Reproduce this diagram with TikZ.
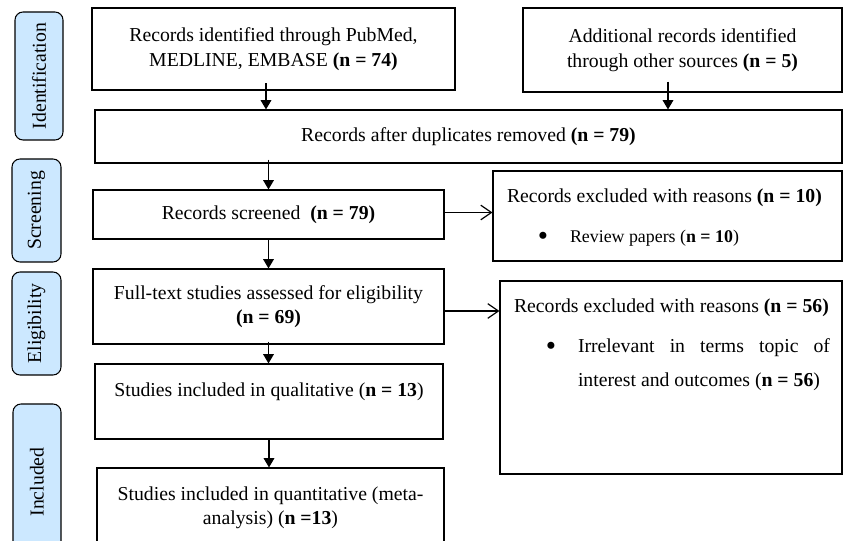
\documentclass[tikz,border=0pt]{standalone}
\usepackage{fontspec}
\setmainfont{Liberation Serif}
\usetikzlibrary{arrows.meta}
\definecolor{stageblue}{RGB}{204,232,255}
\newdimen\pxu \pxu=0.75pt
\newcommand{\mainfs}{\fontsize{14.8}{18.4}\selectfont}
\newcommand{\bulletfs}{\fontsize{13.4}{16}\selectfont}
\newcommand{\bigbullet}{\makebox[0pt]{\raisebox{-1.9pt}{\fontsize{22}{22}\selectfont\textbullet}}}

\begin{document}
\begin{tikzpicture}[x=0.75pt,y=-0.75pt,
    box/.style={draw,line width=0.8pt,inner sep=0pt,align=center,font=\mainfs},
    stage/.style={draw,line width=0.8pt,rounded corners=6pt,fill=stageblue,
                  inner sep=0pt,rotate=90,font=\mainfs},
    wh/.style 2 args={minimum width=#1\pxu,minimum height=#2\pxu},
    arr/.style={-{Triangle[width=8pt,length=7pt]},line width=0.9pt},
    exarr/.style={-{Straight Barb[width=11pt,length=8pt]},line width=0.9pt},
  ]
    \clip (0,0) rectangle (843,541);
    \node[stage,wh={128}{48}] (ident) at (39,76)    {Identification};
    \node[stage,wh={103}{49}] (scr)   at (36.5,210.5) {Screening};
    \node[stage,wh={103}{49}] (elig)  at (36.5,323.5) {Eligibility};
    \node[stage,wh={156}{48}] (incl)  at (37,482)   {Included};

    \node[box,wh={363}{82}]  (pubmed)   at (273.5,49)    {Records identified through PubMed,\\ MEDLINE, EMBASE \textbf{(n = 74)}};
    \node[box,wh={319}{84}]  (other)    at (682.5,50)    {Additional records identified\\ through other sources \textbf{(n = 5)}};
    \node[box,wh={747}{53}]  (dedup)    at (468.5,136.5) {Records after duplicates removed \textbf{(n = 79)}};
    \node[box,wh={351}{49}]  (screen)   at (268.5,214.5) {Records screened\ \ \textbf{(n = 79)}};
    \node[box,wh={351}{75}]  (fulltext) at (268.5,306.5) {Full-text studies assessed for eligibility\\ \textbf{(n = 69)}};
    \node[box,wh={348}{75}]  (qual)     at (269,401.5)   {Studies included in qualitative (\textbf{n = 13})\\ \mbox{}};
    \node[box,wh={347}{80}]  (quant)    at (270.5,508)   {Studies included in quantitative (meta-\\ analysis) (\textbf{n =13})};

    \node[box,wh={349}{90}]  (excl1)    at (667.5,216) {\parbox[c][90\pxu][t]{349\pxu}{%
        \vspace*{18\pxu}\hspace*{14\pxu}Records excluded with reasons \textbf{(n = 10)}\par
        \vspace{15.5\pxu}\hspace*{50\pxu}\bigbullet\hspace{27\pxu}{\bulletfs Review papers (\textbf{n = 10})}}};
    \node[box,wh={342}{193}] (excl2)    at (671,377.5) {\parbox[c][193\pxu][t]{342\pxu}{%
        \vspace*{18\pxu}\hspace*{14\pxu}Records excluded with reasons \textbf{(n = 56)}\par
        \vspace{15.5\pxu}\hspace*{51\pxu}\bigbullet\hspace{27\pxu}\parbox[t]{252\pxu}{\fontsize{14.8}{25.5}\selectfont
        Irrelevant in terms topic of\linebreak interest and outcomes (\textbf{n = 56})}}};

    \draw[arr] ([xshift=-7.5\pxu,yshift=7.5\pxu]pubmed.south) -- ([xshift=-7.5\pxu]pubmed.south |- dedup.north);
    \draw[arr] ([xshift=-14.5\pxu,yshift=11\pxu]other.south) -- ([xshift=-14.5\pxu]other.south |- dedup.north);
    \draw[arr] ([yshift=4\pxu]dedup.south -| screen.north) -- (screen.north);
    \draw[arr] (screen) -- (fulltext);
    \draw[arr] ([yshift=3\pxu]fulltext.south) -- (fulltext.south |- qual.north);
    \draw[arr] (qual.south) -- (qual.south |- quant.north);
    \draw[exarr] ([yshift=2\pxu]screen.east) -- ([yshift=2\pxu]screen.east -| excl1.west);
    \draw[exarr] ([yshift=-4.5\pxu]fulltext.east) -- ([yshift=-4.5\pxu]fulltext.east -| excl2.west);
  \end{tikzpicture}
\end{document}
